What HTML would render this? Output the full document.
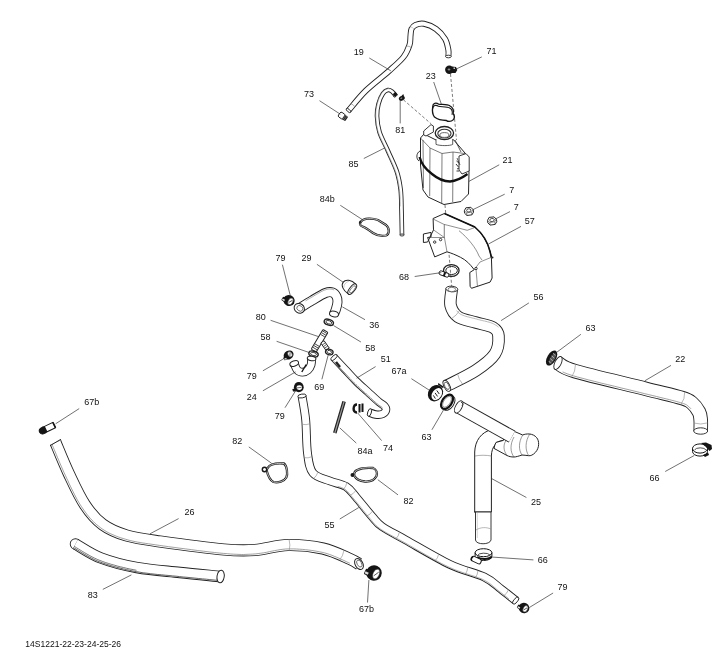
<!DOCTYPE html>
<html><head><meta charset="utf-8"><style>
html,body{margin:0;padding:0;background:#fff;}
svg{display:block;will-change:transform;}
text{font-family:"Liberation Sans",sans-serif;fill:#111;}
</style></head><body>
<svg width="712" height="653" viewBox="0 0 712 653">
<path d="M348.5,110.5 C351.4,107.2 359.2,97.1 366.0,90.5 C372.8,83.9 382.8,76.6 389.0,71.0 C395.2,65.4 400.1,61.3 403.5,57.0 C406.9,52.7 408.3,48.5 409.5,45.0 C410.7,41.5 410.2,38.7 410.5,36.0 C410.8,33.3 410.7,30.8 411.5,29.0 C412.3,27.2 413.4,25.9 415.5,25.0 C417.6,24.1 420.6,23.1 424.0,23.8 C427.4,24.5 432.5,26.5 436.0,29.0 C439.5,31.5 443.0,35.5 445.1,39.0 C447.2,42.5 447.8,47.1 448.4,50.0 C448.9,52.9 448.4,55.4 448.4,56.5" fill="none" stroke="#222" stroke-width="6.0" stroke-linecap="butt" stroke-linejoin="round"/>
<path d="M348.5,110.5 C351.4,107.2 359.2,97.1 366.0,90.5 C372.8,83.9 382.8,76.6 389.0,71.0 C395.2,65.4 400.1,61.3 403.5,57.0 C406.9,52.7 408.3,48.5 409.5,45.0 C410.7,41.5 410.2,38.7 410.5,36.0 C410.8,33.3 410.7,30.8 411.5,29.0 C412.3,27.2 413.4,25.9 415.5,25.0 C417.6,24.1 420.6,23.1 424.0,23.8 C427.4,24.5 432.5,26.5 436.0,29.0 C439.5,31.5 443.0,35.5 445.1,39.0 C447.2,42.5 447.8,47.1 448.4,50.0 C448.9,52.9 448.4,55.4 448.4,56.5" fill="none" stroke="#fff" stroke-width="4.2" stroke-linecap="butt" stroke-linejoin="round"/>
<ellipse cx="348.5" cy="110.5" rx="1.3" ry="2.8" transform="rotate(131.2 348.5 110.5)" fill="#fff" stroke="#222" stroke-width="0.9"/>
<ellipse cx="448.4" cy="56.5" rx="1.3" ry="2.8" transform="rotate(90.0 448.4 56.5)" fill="#fff" stroke="#222" stroke-width="0.9"/>
<path d="M411.2,47.6 Q409.2,45.9 406.6,46.0" fill="none" stroke="#777" stroke-width="0.6"/>
<path d="M354.7,106.8 Q353.5,104.5 351.0,103.8" fill="none" stroke="#777" stroke-width="0.6"/>
<path d="M414.1,29.2 Q412.5,27.1 410.0,26.7" fill="none" stroke="#999" stroke-width="0.5"/>
<text x="358.7" y="55.0" font-size="9" text-anchor="middle">19</text>
<line x1="369.3" y1="58.0" x2="390.8" y2="70.8" stroke="#333" stroke-width="0.7"/>
<g transform="translate(343,116.5) rotate(35)"><rect x="-4.5" y="-2.8" width="6" height="5.6" rx="1.5" fill="#fff" stroke="#222" stroke-width="0.9"/><rect x="0.5" y="-2.6" width="4" height="5.2" rx="0.8" fill="#222"/><path d="M1.5,-2.6 L1.5,2.6 M3,-2.6 L3,2.6" stroke="#999" stroke-width="0.5"/></g>
<text x="309.1" y="96.6" font-size="9" text-anchor="middle">73</text>
<line x1="319.5" y1="100.7" x2="340.3" y2="114.2" stroke="#333" stroke-width="0.7"/>
<ellipse cx="449.3" cy="69.8" rx="4.2" ry="4.2" fill="#151515"/><path d="M452,66.5 L456,67 L457.3,70 L455.5,73 L452,73 Z" fill="#151515"/><ellipse cx="449" cy="69.5" rx="1.4" ry="0.9" fill="#888"/><rect x="453.5" y="67.5" width="1.5" height="1.5" fill="#ccc"/>
<text x="491.4" y="53.8" font-size="9" text-anchor="middle">71</text>
<line x1="481.8" y1="56.9" x2="455.2" y2="69.5" stroke="#333" stroke-width="0.7"/>
<line x1="450.5" y1="74.0" x2="456.5" y2="140.0" stroke="#444" stroke-width="0.7" stroke-dasharray="3,2"/>
<g transform="translate(443.2,112.2) scale(1.13) translate(-443.2,-112.2)">
<path d="M434,107 C434,104 437,103.5 439,105 C442,105.5 447,105 449,106.5 C452,108 452.5,111 452,113.5 C453,115 453.5,117.5 452,119 C450,121 447,120.5 446,119.5 C442,119.5 438,118.5 435.5,116.5 C433.5,114 433.5,110 434,107 Z" fill="#fff" stroke="#151515" stroke-width="1.2"/>
<path d="M434,109 C434,106 437,105.5 439,107 C442,107.5 447,107 449,108.5 C451.5,110 451.5,112.5 451,114.5" fill="none" stroke="#151515" stroke-width="0.9"/>
</g>
<text x="430.7" y="78.5" font-size="9" text-anchor="middle">23</text>
<line x1="433.7" y1="82.0" x2="441.3" y2="104.0" stroke="#333" stroke-width="0.7"/>
<g transform="translate(401.8,98.3) rotate(-30)"><ellipse rx="3.1" ry="2.3" fill="#151515"/><path d="M0.5,-2 L3.5,-3 L3,-1 Z" fill="#151515"/><ellipse cx="-0.3" cy="-0.3" rx="1" ry="0.5" fill="#bbb"/></g>
<text x="400.2" y="132.5" font-size="9" text-anchor="middle">81</text>
<line x1="400.2" y1="100.0" x2="400.2" y2="123.4" stroke="#333" stroke-width="0.7"/>
<line x1="403.4" y1="99.8" x2="431.2" y2="123.9" stroke="#444" stroke-width="0.7" stroke-dasharray="3,2"/>
<path d="M395.5,95.5 C394.9,94.8 393.2,92.4 392.0,91.5 C390.8,90.6 389.5,89.7 388.0,90.0 C386.5,90.3 384.6,91.2 383.0,93.5 C381.4,95.8 379.5,100.2 378.5,104.0 C377.5,107.8 376.8,111.3 377.0,116.0 C377.2,120.7 377.7,126.2 379.5,132.0 C381.3,137.8 385.1,144.3 388.0,151.0 C390.9,157.7 394.9,165.5 397.0,172.0 C399.1,178.5 399.9,183.7 400.7,190.0 C401.4,196.3 401.3,202.5 401.5,210.0 C401.7,217.5 401.9,230.8 402.0,235.0" fill="none" stroke="#222" stroke-width="4.6" stroke-linecap="butt" stroke-linejoin="round"/>
<path d="M395.5,95.5 C394.9,94.8 393.2,92.4 392.0,91.5 C390.8,90.6 389.5,89.7 388.0,90.0 C386.5,90.3 384.6,91.2 383.0,93.5 C381.4,95.8 379.5,100.2 378.5,104.0 C377.5,107.8 376.8,111.3 377.0,116.0 C377.2,120.7 377.7,126.2 379.5,132.0 C381.3,137.8 385.1,144.3 388.0,151.0 C390.9,157.7 394.9,165.5 397.0,172.0 C399.1,178.5 399.9,183.7 400.7,190.0 C401.4,196.3 401.3,202.5 401.5,210.0 C401.7,217.5 401.9,230.8 402.0,235.0" fill="none" stroke="#fff" stroke-width="2.8" stroke-linecap="butt" stroke-linejoin="round"/>
<ellipse cx="395.5" cy="95.5" rx="1.0" ry="2.1" transform="rotate(48.8 395.5 95.5)" fill="#fff" stroke="#222" stroke-width="0.9"/>
<ellipse cx="402.0" cy="235.0" rx="1.0" ry="2.1" transform="rotate(88.9 402.0 235.0)" fill="#fff" stroke="#222" stroke-width="0.9"/>
<path d="M390.2,89.0 L389.7,88.9 L389.3,88.8 L388.8,88.7 L388.3,88.7 L387.8,88.8 L387.3,88.9 L386.8,89.1 L386.4,89.2 L385.9,89.4 L385.4,89.7 L384.9,90.0 L384.4,90.3 L383.9,90.7 L383.4,91.2 L382.9,91.7 L382.5,92.2 L382.0,92.8 L381.6,93.5 L381.1,94.2 L380.7,95.0 L380.3,95.9 L379.8,96.8 L379.4,97.7 L379.0,98.7 L378.6,99.7 L378.3,100.7 L377.9,101.7 L377.6,102.7 L377.3,103.7 L377.1,104.6 L376.9,105.6 L376.6,106.5 L376.5,107.5 L376.3,108.5 L376.1,109.5 L376.0,110.5 L375.9,111.6 L375.8,112.6 L375.8,113.7 L375.8,114.9 L375.8,116.0 L375.9,117.2 L375.9,118.5 L376.0,119.7 L376.1,121.0 L376.3,122.4 L376.4,123.7 L376.6,125.1 L376.9,126.5 L377.2,128.0 L377.5,129.4 L377.9,130.9 L378.4,132.4 L378.9,133.9 L379.4,135.4 L380.1,137.0 L380.8,138.5 L381.5,140.1 L382.3,141.7 L383.0,143.3 L383.8,144.9 L384.6,146.6 L385.4,148.2 L386.2,149.8 L386.9,151.5 L387.7,153.2 L388.4,154.9 L389.2,156.7 L390.1,158.5 L390.9,160.3 L391.7,162.1 L392.5,163.8 L393.3,165.6 L394.0,167.4 L394.7,169.1 L395.3,170.8 L395.9,172.4 L396.4,173.9 L396.8,175.5 L397.2,177.0 L397.6,178.4 L397.9,179.9 L398.2,181.3 L398.5,182.7 L398.7,184.2 L398.9,185.6 L399.1,187.1 L399.3,188.6 L399.5,190.1 L399.7,191.7 L399.8,193.3 L399.9,194.8 L400.0,196.4 L400.1,198.0 L400.1,199.6 L400.1,201.2 L400.2,202.9 L400.2,204.6 L400.2,206.4" fill="none" stroke="#777" stroke-width="0.5"/>
<line x1="394" y1="93" x2="396.3" y2="95.6" stroke="#151515" stroke-width="3.4"/>
<text x="353.4" y="166.9" font-size="9" text-anchor="middle">85</text>
<line x1="363.8" y1="158.5" x2="384.6" y2="148.0" stroke="#333" stroke-width="0.7"/>
<path d="M361,221.5 C364,218 372,217.8 378,220 L386,225 C390,228.5 389.5,234 386,235.5 C382,236.5 377,235.5 373,233 C369,230 366,228 362.5,226.5 C359.5,225.5 359.5,223.5 361,221.5 Z" fill="none" stroke="#1a1a1a" stroke-width="2.3"/>
<path d="M361,221.5 C364,218 372,217.8 378,220 L386,225 C390,228.5 389.5,234 386,235.5 C382,236.5 377,235.5 373,233 C369,230 366,228 362.5,226.5 C359.5,225.5 359.5,223.5 361,221.5 Z" fill="none" stroke="#fff" stroke-width="0.7"/>
<path d="M360.5,221 L359.5,223.5" stroke="#1a1a1a" stroke-width="1.8"/>
<text x="327.3" y="202.0" font-size="9" text-anchor="middle">84b</text>
<line x1="340.3" y1="205.3" x2="362.5" y2="219.7" stroke="#333" stroke-width="0.7"/>
<path d="M420.5,138 L424,134 L436,140 L453.6,139.8 L465.5,153.6 L469,172 L468.5,194 L461,201.5 L444,204.5 L428,197 L423,190 L420.5,165 Z" fill="#fff" stroke="#222" stroke-width="1"/>
<path d="M420.5,138 L430,148 L442,153.5 L453,152 L465.5,153.6 M430,148 L429.7,196 M442,153.5 L441.7,203 M453,152 L452.7,202 M423,140 L423.5,188" fill="none" stroke="#444" stroke-width="0.7"/>
<path d="M456.5,161 L459,163 M456,164 L458.5,167 M457,169 L459,168 M456.5,171 L459,171" fill="none" stroke="#222" stroke-width="0.9"/>
<path d="M436,139 L436,144.4 C440,146 450,146 452.7,144.4 L452.7,139" fill="#fff" stroke="#333" stroke-width="0.8"/>
<ellipse cx="444.4" cy="133.1" rx="9.2" ry="6.6" fill="#fff" stroke="#222" stroke-width="1.3"/><ellipse cx="444.4" cy="133.6" rx="6.6" ry="4.4" fill="#fff" stroke="#333" stroke-width="1.1"/><ellipse cx="444.4" cy="135" rx="4.6" ry="2.4" fill="#fff" stroke="#444" stroke-width="0.8"/>
<path d="M423.7,131 L431,124.6 L433.4,126 L433.4,132 L426,136 L423.7,135 Z" fill="#fff" stroke="#222" stroke-width="0.9"/>
<path d="M419.6,157 C421,163 424,168 432,174 C438,179 444,181.5 450,181.5 C456,181 462,178 467.5,174" fill="none" stroke="#111" stroke-width="2.3"/>
<path d="M420,151 C416,153 416,159 419,161" fill="none" stroke="#222" stroke-width="0.9"/>
<path d="M459,156 L466,153.6 L469.2,157 L469.2,171 L462,174 L459,170 Z" fill="#fff" stroke="#222" stroke-width="0.9"/>
<path d="M455,140 L461,152 M457,158 L460,165" fill="none" stroke="#333" stroke-width="0.8"/>
<text x="507.5" y="162.5" font-size="9" text-anchor="middle">21</text>
<line x1="499.2" y1="164.8" x2="468.9" y2="181.4" stroke="#333" stroke-width="0.7"/>
<line x1="445.0" y1="205.0" x2="452.0" y2="290.0" stroke="#444" stroke-width="0.7" stroke-dasharray="3,2"/>
<g transform="translate(468.9,211.2) rotate(-8)"><path d="M-4.5,-1 L-2.5,-3.8 L2.5,-3.6 L4.5,-0.8 L4.5,1.5 L2.5,4 L-2.5,4 L-4.5,1.5 Z" fill="#fff" stroke="#222" stroke-width="0.9"/><ellipse cy="-0.8" rx="2.2" ry="1.6" fill="#fff" stroke="#333" stroke-width="0.8"/><path d="M-4.5,-1 L-2.5,1.3 L2.5,1.3 L4.5,-0.8 M-2.5,1.3 L-2.5,4 M2.5,1.3 L2.5,4" fill="none" stroke="#444" stroke-width="0.6"/></g>
<g transform="translate(492.1,220.8) rotate(-8)"><path d="M-4.5,-1 L-2.5,-3.8 L2.5,-3.6 L4.5,-0.8 L4.5,1.5 L2.5,4 L-2.5,4 L-4.5,1.5 Z" fill="#fff" stroke="#222" stroke-width="0.9"/><ellipse cy="-0.8" rx="2.2" ry="1.6" fill="#fff" stroke="#333" stroke-width="0.8"/><path d="M-4.5,-1 L-2.5,1.3 L2.5,1.3 L4.5,-0.8 M-2.5,1.3 L-2.5,4 M2.5,1.3 L2.5,4" fill="none" stroke="#444" stroke-width="0.6"/></g>
<text x="511.7" y="192.8" font-size="9" text-anchor="middle">7</text>
<line x1="504.7" y1="194.2" x2="472.6" y2="209.8" stroke="#333" stroke-width="0.7"/>
<text x="516.3" y="210.2" font-size="9" text-anchor="middle">7</text>
<line x1="510.0" y1="211.6" x2="494.4" y2="219.5" stroke="#333" stroke-width="0.7"/>
<path d="M433.1,218.5 L444.4,213.5 L474.8,227 C482,233 488,243 490.1,251.8 L491.4,257.3 L492.1,278 L490.1,282.1 L471.5,288.3 L470.1,286.3 L469.8,272.5 L474.2,269.7 C470,264 466,260 460.5,257.3 C456,255 451,253 447,251.8 L434.7,256.9 L427.6,237.5 L431,237 L431,232.4 L423.4,234 L423.4,242.5 L427.6,242 L433.5,229.9 Z" fill="#fff" stroke="#222" stroke-width="1"/>
<path d="M433.1,219 L444,224.4 L447.8,225.3 L467.2,230.3 L474,227.8 M444.4,224.4 L444.4,237.5 L447,251.8 M427.6,237.5 L444.4,237.5 M433.5,229.9 L444.4,237.5 M459,230.7 C468,238 476,248 479,256 L482,260 M474.2,269.7 L480,262 L491.4,257.3 M476,269 L477.5,287" fill="none" stroke="#444" stroke-width="0.6"/>
<path d="M444.4,225 L444.4,237" stroke="#999" stroke-width="1.2"/>
<circle cx="434.7" cy="242.1" r="1.2" fill="#fff" stroke="#222" stroke-width="0.9"/><circle cx="440.6" cy="239.6" r="1.2" fill="#fff" stroke="#222" stroke-width="0.9"/><circle cx="476" cy="268.5" r="1.2" fill="#fff" stroke="#222" stroke-width="0.9"/>
<path d="M444.4,213.5 L474.8,227 C482,233 488,243 490.1,251.8 L491.4,257.3" fill="none" stroke="#111" stroke-width="1.6"/>
<circle cx="492.5" cy="257.5" r="1" fill="#222"/>
<text x="529.8" y="224.2" font-size="9" text-anchor="middle">57</text>
<line x1="521.0" y1="226.4" x2="488.5" y2="244.0" stroke="#333" stroke-width="0.7"/>
<ellipse cx="451.3" cy="270.5" rx="7.8" ry="5.9" transform="rotate(0 451.3 270.5)" fill="none" stroke="#222" stroke-width="1.3"/>
<ellipse cx="451.6" cy="270.5" rx="5.8" ry="4" transform="rotate(0 451.6 270.5)" fill="none" stroke="#222" stroke-width="1.0"/>
<g transform="translate(444,274) rotate(20)"><rect x="-5" y="-2" width="10" height="4" rx="1.5" fill="#fff" stroke="#151515" stroke-width="0.9"/><rect x="-0.5" y="-2" width="2" height="4" fill="#151515"/></g>
<text x="404.0" y="279.7" font-size="9" text-anchor="middle">68</text>
<line x1="414.7" y1="276.5" x2="441.3" y2="272.6" stroke="#333" stroke-width="0.7"/>
<path d="M451.8,289.0 C451.6,291.7 449.6,300.8 450.6,305.4 C451.7,310.0 453.9,313.9 458.1,316.8 C462.3,319.7 470.0,320.7 475.8,322.5 C481.6,324.3 489.2,325.2 493.0,327.5 C496.8,329.8 498.2,331.6 498.5,336.0 C498.8,340.4 498.6,348.2 494.8,354.0 C491.0,359.8 483.8,365.2 475.8,370.5 C467.8,375.8 451.6,383.2 446.8,385.8" fill="none" stroke="#222" stroke-width="12.5" stroke-linecap="butt" stroke-linejoin="round"/>
<path d="M451.8,289.0 C451.6,291.7 449.6,300.8 450.6,305.4 C451.7,310.0 453.9,313.9 458.1,316.8 C462.3,319.7 470.0,320.7 475.8,322.5 C481.6,324.3 489.2,325.2 493.0,327.5 C496.8,329.8 498.2,331.6 498.5,336.0 C498.8,340.4 498.6,348.2 494.8,354.0 C491.0,359.8 483.8,365.2 475.8,370.5 C467.8,375.8 451.6,383.2 446.8,385.8" fill="none" stroke="#fff" stroke-width="10.7" stroke-linecap="butt" stroke-linejoin="round"/>
<ellipse cx="451.8" cy="289.0" rx="2.8" ry="6.0" transform="rotate(-85.8 451.8 289.0)" fill="#fff" stroke="#222" stroke-width="0.9"/>
<ellipse cx="446.8" cy="385.8" rx="2.8" ry="6.0" transform="rotate(152.2 446.8 385.8)" fill="#fff" stroke="#222" stroke-width="0.9"/>
<ellipse cx="451.8" cy="289.5" rx="3.8" ry="2.2" fill="#fff" stroke="#444" stroke-width="0.7"/>
<ellipse cx="446.8" cy="385.8" rx="2" ry="4" transform="rotate(-28 446.8 385.8)" fill="#fff" stroke="#444" stroke-width="0.7"/>
<path d="M451.5,318.6 Q456.5,315.7 459.5,310.6" fill="none" stroke="#888" stroke-width="0.6"/>
<path d="M457.6,374.1 Q458.8,379.9 462.7,384.2" fill="none" stroke="#888" stroke-width="0.6"/>
<path d="M456.6,310.6 L457.2,311.3 L457.8,312.0 L458.5,312.7 L459.2,313.3 L460.0,313.9 L460.9,314.4 L461.9,314.9 L463.1,315.4 L464.4,315.8 L465.8,316.3 L467.2,316.7 L468.8,317.1 L470.4,317.5 L472.0,317.9 L473.6,318.3 L475.2,318.7 L476.8,319.1 L478.2,319.6 L479.7,319.9 L481.2,320.3 L482.8,320.7 L484.4,321.0 L486.0,321.4 L487.6,321.8 L489.1,322.2 L490.6,322.7 L492.1,323.2 L493.5,323.8 L494.7,324.5 L495.8,325.1 L496.8,325.8 L497.7,326.5 L498.5,327.2" fill="none" stroke="#777" stroke-width="0.5"/>
<text x="538.5" y="299.7" font-size="9" text-anchor="middle">56</text>
<line x1="528.9" y1="302.9" x2="501.1" y2="320.6" stroke="#333" stroke-width="0.7"/>
<g transform="translate(435.5,393.2) rotate(35)"><ellipse rx="7.2" ry="8.6" fill="#151515"/><ellipse cx="1.6" cy="0" rx="4.6" ry="6.6" fill="#fff"/><path d="M-0.5,-3 L3.5,-1.5 M-0.5,0 L3.5,1.5 M-0.5,3 L3,4.5" stroke="#222" stroke-width="0.9"/><path d="M-3,-8.5 L3,-8.5 L3.5,-10 L-3.5,-10 Z" fill="#151515"/></g>
<text x="399.0" y="374.2" font-size="9" text-anchor="middle">67a</text>
<line x1="411.4" y1="378.7" x2="429.0" y2="390.0" stroke="#333" stroke-width="0.7"/>
<g transform="translate(448,402.5) rotate(35)"><ellipse cx="1.2" rx="4.8" ry="8" fill="#fff" stroke="#222" stroke-width="1"/><rect x="-1.2" y="-8" width="2.4" height="16" fill="#fff"/><path d="M-1.2,-8 L1.2,-8 M-1.2,8 L1.2,8" stroke="#222" stroke-width="1"/><ellipse cx="-1.2" rx="4.8" ry="8" fill="#fff" stroke="#111" stroke-width="2.2"/><ellipse cx="-1.2" rx="3.2" ry="6.2" fill="#fff" stroke="#555" stroke-width="0.6"/></g>
<text x="426.5" y="440.4" font-size="9" text-anchor="middle">63</text>
<line x1="431.9" y1="429.8" x2="444.1" y2="409.0" stroke="#333" stroke-width="0.7"/>
<path d="M474.7,512 L474.7,452 C475,441 481,432 492,429.5 L507.4,428.4 L503.4,440.4 C499,441 496.5,442 495.4,444.4 C493,447 491.4,451 491.4,456 L491.4,512 Z" fill="#fff" stroke="#222" stroke-width="1"/>
<path d="M507.4,428.4 L522.7,435 C526,433.5 533,433 536.7,437.7 C539.5,441 539.5,448 535.4,452.4 C533,455 530.5,456 528.7,455.7 C526,455.5 524,455 522,455 C519,456 516,457 514,457 C511,457 509,456.5 507,455.5 L494,448.4 C494.5,446 495,444 496,442.4 L503.4,440.4 Z" fill="#fff" stroke="#222" stroke-width="1"/>
<path d="M507,455.5 C503,450 503,444 507,439 M514,457 C510,452 510,444 514,437 M522,455 C518.5,450 518.5,442 522.7,435 M528.7,455.7 C525,450 525,441 530,433.7" fill="none" stroke="#555" stroke-width="0.6"/>
<path d="M475,456 C480,455 486,455 491.5,456" fill="none" stroke="#777" stroke-width="0.6"/>
<path d="M458.7,406.9 L512.0,436.7" fill="none" stroke="#222" stroke-width="13.5" stroke-linecap="butt" stroke-linejoin="round"/>
<path d="M458.7,406.9 L512.0,436.7" fill="none" stroke="#fff" stroke-width="11.7" stroke-linecap="butt" stroke-linejoin="round"/>
<ellipse cx="458.7" cy="406.9" rx="3.2" ry="6.7" transform="rotate(29 458.7 406.9)" fill="#fff" stroke="#222" stroke-width="0.9"/>
<path d="M461,402 L463,404 L462,406" fill="none" stroke="#222" stroke-width="0.8"/>
<path d="M475.5,512 L475.5,540 C476,545 490,545 491,540 L491,512" fill="#fff" stroke="#222" stroke-width="0.9"/>
<line x1="474" y1="512" x2="491" y2="512" stroke="#222" stroke-width="0.9"/>
<path d="M476,530 C481,527 486,527 491,529" fill="none" stroke="#888" stroke-width="0.6"/><line x1="477.3" y1="513" x2="477.3" y2="538" stroke="#aaa" stroke-width="0.5"/>
<text x="536.0" y="505.3" font-size="9" text-anchor="middle">25</text>
<line x1="526.4" y1="497.5" x2="491.3" y2="478.4" stroke="#333" stroke-width="0.7"/>
<path d="M475.1,552.7 L475.1,556.5 A8.4,4 0 0 0 491.9,556.5 L491.9,552.7" fill="#fff" stroke="#151515" stroke-width="1"/>
<ellipse cx="483.5" cy="552.7" rx="8.4" ry="4" fill="none" stroke="#151515" stroke-width="1"/>
<path d="M477,557 A8.4,4 0 0 0 491.9,556.5" fill="none" stroke="#151515" stroke-width="2"/>
<g transform="translate(476.5,560.3) rotate(25)"><rect x="-5.2" y="-2.6" width="10" height="5" rx="2" fill="#fff" stroke="#151515" stroke-width="1"/><path d="M-4.5,-2 C-6,-1 -6,1.5 -4,2.4" fill="none" stroke="#151515" stroke-width="1.6"/></g>
<path d="M477.5,555.5 A6.5,2.8 0 0 1 490,555" fill="none" stroke="#222" stroke-width="0.8"/>
<text x="542.7" y="563.1" font-size="9" text-anchor="middle">66</text>
<line x1="533.4" y1="559.9" x2="492.7" y2="557.1" stroke="#333" stroke-width="0.7"/>
<path d="M558.0,363.0 C560.8,364.4 560.4,366.9 575.0,371.2 C589.6,375.5 627.8,384.3 645.6,388.8 C663.4,393.3 674.3,395.6 682.0,398.0 C689.7,400.4 689.2,400.7 692.0,403.0 C694.8,405.3 697.5,409.2 699.0,412.0 C700.5,414.8 700.4,416.8 700.7,420.0 C701.0,423.2 700.7,429.2 700.7,431.0" fill="none" stroke="#222" stroke-width="14.5" stroke-linecap="butt" stroke-linejoin="round"/>
<path d="M558.0,363.0 C560.8,364.4 560.4,366.9 575.0,371.2 C589.6,375.5 627.8,384.3 645.6,388.8 C663.4,393.3 674.3,395.6 682.0,398.0 C689.7,400.4 689.2,400.7 692.0,403.0 C694.8,405.3 697.5,409.2 699.0,412.0 C700.5,414.8 700.4,416.8 700.7,420.0 C701.0,423.2 700.7,429.2 700.7,431.0" fill="none" stroke="#fff" stroke-width="12.7" stroke-linecap="butt" stroke-linejoin="round"/>
<ellipse cx="558.0" cy="363.0" rx="3.2" ry="7.0" transform="rotate(-154.2 558.0 363.0)" fill="#fff" stroke="#222" stroke-width="0.9"/>
<ellipse cx="700.7" cy="431.0" rx="3.2" ry="7.0" transform="rotate(90.0 700.7 431.0)" fill="#fff" stroke="#222" stroke-width="0.9"/>
<path d="M562.6,371.9 L564.7,372.8 L567.2,373.8 L570.1,374.8 L573.6,375.9 L577.8,377.1 L582.8,378.4 L588.5,379.9 L594.6,381.4 L601.2,383.1 L607.9,384.7 L614.7,386.3 L621.5,388.0 L627.9,389.5 L634.0,391.0 L639.6,392.4 L644.4,393.6 L648.7,394.6 L652.8,395.6 L656.6,396.5 L660.1,397.4 L663.4,398.2 L666.4,398.9 L669.3,399.6 L671.9,400.3 L674.3,400.9 L676.6,401.5 L678.6,402.1 L680.6,402.7 L682.3,403.2 L683.7,403.7 L684.7,404.0 L685.5,404.4 L686.1,404.6 L686.4,404.8 L686.7,404.9 L686.9,405.1 L687.2,405.3 L687.6,405.7 L688.2,406.2 L688.8,406.7 L689.4,407.2 L689.9,407.7 L690.5,408.3 L691.0,408.9" fill="none" stroke="#555" stroke-width="0.55"/>
<path d="M680.8,404.6 Q685.1,399.0 684.7,391.9" fill="none" stroke="#888" stroke-width="0.6"/>
<path d="M694.2,423.1 Q700.8,425.0 707.5,422.9" fill="none" stroke="#888" stroke-width="0.6"/>
<path d="M571.6,377.1 Q575.5,371.4 575.5,364.4" fill="none" stroke="#888" stroke-width="0.6"/>
<g transform="translate(551.6,358) rotate(30)"><ellipse rx="4.4" ry="8.4" fill="#151515"/><ellipse cx="1" rx="2.2" ry="6" fill="#555"/><path d="M-1,-5 L2,-4 M-1,-2 L2.5,-1 M-1,1 L2.5,2 M-1,4 L2,5" stroke="#ccc" stroke-width="0.7"/></g>
<text x="590.5" y="330.8" font-size="9" text-anchor="middle">63</text>
<line x1="580.9" y1="334.3" x2="554.7" y2="353.8" stroke="#333" stroke-width="0.7"/>
<text x="680.3" y="362.2" font-size="9" text-anchor="middle">22</text>
<line x1="671.0" y1="365.4" x2="644.8" y2="380.8" stroke="#333" stroke-width="0.7"/>
<path d="M692.5,448.5 L692.5,451.5 A7.5,4.6 0 0 0 707.5,451.5 L707.5,448.5" fill="#fff" stroke="#151515" stroke-width="1"/>
<ellipse cx="700" cy="448.5" rx="7.5" ry="4.6" fill="none" stroke="#151515" stroke-width="1"/>
<path d="M694.5,450 A6,3 0 0 1 706,450" fill="none" stroke="#222" stroke-width="0.8"/>
<path d="M701,443 L706,442.5 L711.5,445 L712,449 L709.5,451 L706,447 Z" fill="#151515"/>
<path d="M703,455 L708,452.5 L709,455 L705,457 Z" fill="#151515"/>
<text x="654.4" y="480.8" font-size="9" text-anchor="middle">66</text>
<line x1="694.2" y1="455.5" x2="665.2" y2="471.5" stroke="#333" stroke-width="0.7"/>
<g transform="translate(349.5,287) rotate(38)"><path d="M3.5,-6.2 C-3,-6.8 -8,-4 -8,0 C-8,4 -3,6.8 3.5,6.2 Z" fill="#fff" stroke="#222" stroke-width="1"/><ellipse cx="3.5" cy="0" rx="2.6" ry="6.2" fill="#fff" stroke="#222" stroke-width="1"/><ellipse cx="3.8" cy="0" rx="1.6" ry="4.4" fill="#fff" stroke="#444" stroke-width="0.6"/><path d="M-4,-4 C-6,-2 -6,2 -4,4" fill="none" stroke="#999" stroke-width="0.5"/></g>
<text x="306.6" y="261.0" font-size="9" text-anchor="middle">29</text>
<line x1="316.9" y1="264.3" x2="343.4" y2="282.4" stroke="#333" stroke-width="0.7"/>
<path d="M299.0,308.5 C301.2,307.2 307.6,303.1 312.0,300.5 C316.4,297.9 322.1,294.3 325.5,293.0 C328.9,291.7 330.7,291.9 332.5,292.5 C334.3,293.1 335.7,294.9 336.5,296.5 C337.3,298.1 337.6,299.9 337.5,302.0 C337.4,304.1 336.6,307.0 336.0,309.0 C335.4,311.0 334.3,313.2 334.0,314.0" fill="none" stroke="#222" stroke-width="10" stroke-linecap="butt" stroke-linejoin="round"/>
<path d="M299.0,308.5 C301.2,307.2 307.6,303.1 312.0,300.5 C316.4,297.9 322.1,294.3 325.5,293.0 C328.9,291.7 330.7,291.9 332.5,292.5 C334.3,293.1 335.7,294.9 336.5,296.5 C337.3,298.1 337.6,299.9 337.5,302.0 C337.4,304.1 336.6,307.0 336.0,309.0 C335.4,311.0 334.3,313.2 334.0,314.0" fill="none" stroke="#fff" stroke-width="8.2" stroke-linecap="butt" stroke-linejoin="round"/>
<ellipse cx="299.3" cy="308.3" rx="5.4" ry="4.6" transform="rotate(35 299.3 308.3)" fill="#fff" stroke="#222" stroke-width="1"/><ellipse cx="299.8" cy="308" rx="3.2" ry="2.6" transform="rotate(35 299.3 308.3)" fill="#fff" stroke="#444" stroke-width="0.7"/>
<ellipse cx="334" cy="314" rx="4.6" ry="2.8" transform="rotate(15 334 314)" fill="#fff" stroke="#222" stroke-width="1"/>
<path d="M305.6,300.9 L306.8,300.1 L308.1,299.3 L309.3,298.6 L310.5,297.9 L311.6,297.3 L312.8,296.6 L314.0,295.8 L315.2,295.1 L316.4,294.4 L317.6,293.7 L318.8,293.0 L320.0,292.3 L321.2,291.7 L322.3,291.1 L323.4,290.6 L324.4,290.2 L325.3,289.9 L326.2,289.6 L327.1,289.4 L327.9,289.2 L328.7,289.1 L329.5,289.0 L330.2,289.0 L331.0,289.1 L331.6,289.2 L332.3,289.3 L332.9,289.5 L333.5,289.7 L334.2,289.9" fill="none" stroke="#666" stroke-width="0.55"/>
<text x="374.3" y="328.4" font-size="9" text-anchor="middle">36</text>
<line x1="365.0" y1="319.7" x2="342.4" y2="306.9" stroke="#333" stroke-width="0.7"/>
<g transform="translate(289,300.5) rotate(30)"><ellipse rx="5.8" ry="5.4" fill="#151515"/><rect x="-7.00" y="-0.54" width="5.22" height="4.05" rx="0.8" fill="#151515"/><rect x="-6.40" y="1.35" width="2.61" height="1.62" fill="#ddd"/><ellipse cx="1.74" rx="2.32" ry="3.56" fill="#fff" stroke="#333" stroke-width="0.5"/><line x1="0.70" y1="1.89" x2="2.90" y2="-1.89" stroke="#444" stroke-width="0.8"/></g>
<text x="280.5" y="261.0" font-size="9" text-anchor="middle">79</text>
<line x1="282.4" y1="264.7" x2="290.3" y2="295.7" stroke="#333" stroke-width="0.7"/>
<ellipse cx="328.8" cy="322.3" rx="4.8" ry="2.8" transform="rotate(20 328.8 322.3)" fill="none" stroke="#222" stroke-width="1.4"/>
<ellipse cx="328.8" cy="322.3" rx="3" ry="1.6" transform="rotate(20 328.8 322.3)" fill="none" stroke="#222" stroke-width="0.8"/>
<text x="260.8" y="320.3" font-size="9" text-anchor="middle">80</text>
<line x1="270.6" y1="320.3" x2="320.8" y2="337.4" stroke="#333" stroke-width="0.7"/>
<text x="370.3" y="350.9" font-size="9" text-anchor="middle">58</text>
<line x1="360.9" y1="342.0" x2="333.5" y2="325.5" stroke="#333" stroke-width="0.7"/>
<g transform="translate(319.6,340.8) rotate(31)"><rect x="-2.9" y="-11.5" width="5.8" height="23" rx="1" fill="#fff" stroke="#222" stroke-width="1"/><path d="M-2.5,-10 L2.5,-10 M-2.5,-8 L2.5,-8 M-2.5,-6 L2.5,-6 M-2.5,5 L2.5,5 M-2.5,7 L2.5,7 M-2.5,9 L2.5,9" stroke="#333" stroke-width="0.8"/></g>
<g transform="translate(325,345.5) rotate(-35)"><rect x="-2" y="-4.5" width="4" height="9" fill="#fff" stroke="#222" stroke-width="0.9"/><path d="M-2,-2 L2,-2 M-2,0 L2,0 M-2,2 L2,2" stroke="#333" stroke-width="0.7"/></g>
<ellipse cx="313.5" cy="354" rx="4.8" ry="2.8" transform="rotate(15 313.5 354)" fill="none" stroke="#222" stroke-width="1.4"/>
<ellipse cx="313.5" cy="354" rx="3" ry="1.6" transform="rotate(15 313.5 354)" fill="none" stroke="#222" stroke-width="0.8"/>
<ellipse cx="329.3" cy="352" rx="3.8" ry="2.7" transform="rotate(15 329.3 352)" fill="none" stroke="#222" stroke-width="1.4"/>
<ellipse cx="329.3" cy="352" rx="2.2" ry="1.5" transform="rotate(15 329.3 352)" fill="none" stroke="#222" stroke-width="0.8"/>
<text x="265.6" y="340.3" font-size="9" text-anchor="middle">58</text>
<line x1="276.6" y1="341.3" x2="310.3" y2="352.9" stroke="#333" stroke-width="0.7"/>
<path d="M311.6,358.5 C311.5,359.5 311.7,362.8 311.1,364.7 C310.5,366.6 309.3,368.8 307.9,370.0 C306.5,371.2 304.3,372.2 302.5,372.2 C300.7,372.2 298.6,371.4 297.2,370.0 C295.8,368.6 294.7,364.6 294.2,363.5" fill="none" stroke="#222" stroke-width="8.8" stroke-linecap="butt" stroke-linejoin="round"/>
<path d="M311.6,358.5 C311.5,359.5 311.7,362.8 311.1,364.7 C310.5,366.6 309.3,368.8 307.9,370.0 C306.5,371.2 304.3,372.2 302.5,372.2 C300.7,372.2 298.6,371.4 297.2,370.0 C295.8,368.6 294.7,364.6 294.2,363.5" fill="none" stroke="#fff" stroke-width="7.000000000000001" stroke-linecap="butt" stroke-linejoin="round"/>
<ellipse cx="294.2" cy="363.5" rx="4.5" ry="2.6" transform="rotate(-20 294.2 363.5)" fill="#fff" stroke="#222" stroke-width="1"/>
<ellipse cx="311.6" cy="358.5" rx="4.4" ry="2.2" transform="rotate(10 311.6 358.5)" fill="#fff" stroke="#222" stroke-width="1"/>
<line x1="301.8" y1="372" x2="306.2" y2="364.5" stroke="#151515" stroke-width="1.4"/>
<g transform="translate(288.6,355) rotate(-30)"><ellipse rx="5.2" ry="4.2" fill="#151515"/><rect x="-6.40" y="-0.42" width="4.68" height="3.15" rx="0.8" fill="#151515"/><rect x="-5.80" y="1.05" width="2.34" height="1.26" fill="#ddd"/><ellipse cx="1.56" rx="2.08" ry="2.77" fill="#fff" stroke="#333" stroke-width="0.5"/><line x1="0.62" y1="1.47" x2="2.60" y2="-1.47" stroke="#444" stroke-width="0.8"/></g>
<text x="251.7" y="379.2" font-size="9" text-anchor="middle">79</text>
<line x1="262.9" y1="370.8" x2="282.9" y2="359.2" stroke="#333" stroke-width="0.7"/>
<text x="251.7" y="400.4" font-size="9" text-anchor="middle">24</text>
<line x1="262.9" y1="390.8" x2="295.6" y2="371.9" stroke="#333" stroke-width="0.7"/>
<text x="319.2" y="389.8" font-size="9" text-anchor="middle">69</text>
<line x1="321.9" y1="379.3" x2="328.2" y2="355.0" stroke="#333" stroke-width="0.7"/>
<ellipse cx="298.8" cy="387.2" rx="4.9" ry="5.1" fill="#151515"/><ellipse cx="299.3" cy="387.6" rx="2.7" ry="2.4" fill="#fff"/><line x1="296.5" y1="388" x2="301.5" y2="387.3" stroke="#333" stroke-width="0.7"/><path d="M292.3,389 L295.7,388.5 L295.7,391.6 L293,391.6 Z" fill="#151515"/>
<text x="279.8" y="419.3" font-size="9" text-anchor="middle">79</text>
<line x1="285.0" y1="407.7" x2="295.6" y2="390.8" stroke="#333" stroke-width="0.7"/>
<path d="M334.0,357.5 C335.8,359.5 341.3,365.4 345.0,369.3 C348.7,373.2 352.2,377.2 356.0,381.0 C359.8,384.8 364.2,388.5 368.0,392.0 C371.8,395.5 376.2,399.7 379.0,402.0 C381.8,404.3 383.3,404.7 384.5,406.0 C385.7,407.3 386.3,408.7 386.0,410.0 C385.7,411.3 384.2,413.2 382.5,414.0 C380.8,414.8 377.7,414.8 375.5,414.5 C373.3,414.2 370.5,412.8 369.5,412.5" fill="none" stroke="#222" stroke-width="8.4" stroke-linecap="butt" stroke-linejoin="round"/>
<path d="M334.0,357.5 C335.8,359.5 341.3,365.4 345.0,369.3 C348.7,373.2 352.2,377.2 356.0,381.0 C359.8,384.8 364.2,388.5 368.0,392.0 C371.8,395.5 376.2,399.7 379.0,402.0 C381.8,404.3 383.3,404.7 384.5,406.0 C385.7,407.3 386.3,408.7 386.0,410.0 C385.7,411.3 384.2,413.2 382.5,414.0 C380.8,414.8 377.7,414.8 375.5,414.5 C373.3,414.2 370.5,412.8 369.5,412.5" fill="none" stroke="#fff" stroke-width="6.6000000000000005" stroke-linecap="butt" stroke-linejoin="round"/>
<ellipse cx="334.0" cy="357.5" rx="1.8" ry="4.0" transform="rotate(-133.0 334.0 357.5)" fill="#fff" stroke="#222" stroke-width="0.9"/>
<ellipse cx="369.5" cy="412.5" rx="1.8" ry="4.0" transform="rotate(-161.6 369.5 412.5)" fill="#fff" stroke="#222" stroke-width="0.9"/>
<path d="M334.1,361.4 L334.9,362.3 L335.9,363.4 L336.9,364.4 L338.0,365.6 L339.0,366.7 L340.1,367.9 L341.1,369.0 L342.1,370.1 L343.1,371.1 L344.0,372.0 L344.9,373.0 L345.8,374.0 L346.7,375.0 L347.6,376.0 L348.5,377.0 L349.4,378.0 L350.4,378.9 L351.3,379.9 L352.2,380.9 L353.2,381.9 L354.2,382.9 L355.2,383.8 L356.2,384.8 L357.2,385.7 L358.2,386.7 L359.2,387.6 L360.3,388.5 L361.3,389.5 L362.3,390.4 L363.3,391.3 L364.3,392.2 L365.3,393.0 L366.2,393.9 L367.2,394.8 L368.2,395.7 L369.2,396.6 L370.2,397.5 L371.2,398.5 L372.1,399.4 L373.1,400.2 L374.0,401.1 L374.9,401.9 L375.8,402.6 L376.6,403.3 L377.3,404.0 L378.1,404.6 L378.7,405.1 L379.4,405.6 L380.0,406.0 L380.5,406.3 L381.0,406.6 L381.4,406.8 L381.7,407.1 L382.0,407.2 L382.2,407.4 L382.4,407.6" fill="none" stroke="#444" stroke-width="0.6"/>
<path d="M336,362 L340,367" stroke="#222" stroke-width="2.4"/>
<text x="385.7" y="362.4" font-size="9" text-anchor="middle">51</text>
<line x1="375.6" y1="366.6" x2="356.6" y2="378.2" stroke="#333" stroke-width="0.7"/>
<g transform="translate(358,408.5)"><path d="M-1,-4 C-5,-4 -6,4 -1,4" fill="none" stroke="#151515" stroke-width="2.4"/><rect x="0.5" y="-4.5" width="2" height="8.5" fill="#151515"/><rect x="3.5" y="-5" width="2" height="8.5" fill="#151515"/></g>
<text x="387.9" y="451.3" font-size="9" text-anchor="middle">74</text>
<line x1="381.6" y1="440.6" x2="357.5" y2="412.8" stroke="#333" stroke-width="0.7"/>
<path d="M344.1,401.4 L334.8,433.0" fill="none" stroke="#222" stroke-width="3.6" stroke-linecap="butt" stroke-linejoin="round"/>
<path d="M344.1,401.4 L334.8,433.0" fill="none" stroke="#999" stroke-width="1.2000000000000002" stroke-linecap="butt" stroke-linejoin="round"/>
<text x="365.1" y="453.9" font-size="9" text-anchor="middle">84a</text>
<line x1="356.3" y1="443.1" x2="339.8" y2="427.9" stroke="#333" stroke-width="0.7"/>
<path d="M302.0,396.0 C302.6,400.0 304.8,410.5 305.7,420.0 C306.6,429.5 306.3,444.2 307.5,453.0 C308.7,461.8 309.2,468.3 313.0,473.0 C316.8,477.7 324.5,478.8 330.0,481.0 C335.5,483.2 341.7,483.8 346.0,486.5 C350.3,489.2 351.7,492.0 356.0,497.0 C360.3,502.0 367.7,511.5 372.0,516.4 C376.3,521.3 376.4,522.6 382.0,526.5 C387.6,530.4 394.5,533.7 405.8,540.0 C417.1,546.3 436.9,558.2 450.0,564.4 C463.1,570.6 475.8,572.9 484.3,577.0 C492.8,581.1 495.8,585.1 501.0,589.0 C506.2,592.9 513.2,598.7 515.7,600.6" fill="none" stroke="#222" stroke-width="8.8" stroke-linecap="butt" stroke-linejoin="round"/>
<path d="M302.0,396.0 C302.6,400.0 304.8,410.5 305.7,420.0 C306.6,429.5 306.3,444.2 307.5,453.0 C308.7,461.8 309.2,468.3 313.0,473.0 C316.8,477.7 324.5,478.8 330.0,481.0 C335.5,483.2 341.7,483.8 346.0,486.5 C350.3,489.2 351.7,492.0 356.0,497.0 C360.3,502.0 367.7,511.5 372.0,516.4 C376.3,521.3 376.4,522.6 382.0,526.5 C387.6,530.4 394.5,533.7 405.8,540.0 C417.1,546.3 436.9,558.2 450.0,564.4 C463.1,570.6 475.8,572.9 484.3,577.0 C492.8,581.1 495.8,585.1 501.0,589.0 C506.2,592.9 513.2,598.7 515.7,600.6" fill="none" stroke="#fff" stroke-width="7.000000000000001" stroke-linecap="butt" stroke-linejoin="round"/>
<ellipse cx="302.0" cy="396.0" rx="1.9" ry="4.2" transform="rotate(-98.8 302.0 396.0)" fill="#fff" stroke="#222" stroke-width="0.9"/>
<ellipse cx="515.7" cy="600.6" rx="1.9" ry="4.2" transform="rotate(38.3 515.7 600.6)" fill="#fff" stroke="#222" stroke-width="0.9"/>
<path d="M302.2,424.3 Q306.1,425.2 309.8,423.8" fill="none" stroke="#888" stroke-width="0.6"/>
<path d="M304.3,457.7 Q308.2,458.4 311.8,456.7" fill="none" stroke="#888" stroke-width="0.6"/>
<path d="M313.6,478.6 Q316.7,476.1 317.8,472.3" fill="none" stroke="#888" stroke-width="0.6"/>
<path d="M343.3,489.4 Q346.2,486.6 346.9,482.6" fill="none" stroke="#888" stroke-width="0.6"/>
<path d="M349.8,495.4 Q353.5,494.0 355.7,490.7" fill="none" stroke="#888" stroke-width="0.6"/>
<path d="M366.7,516.0 Q370.4,514.5 372.5,511.2" fill="none" stroke="#888" stroke-width="0.6"/>
<path d="M395.8,538.9 Q398.7,536.1 399.4,532.2" fill="none" stroke="#888" stroke-width="0.6"/>
<path d="M435.0,560.9 Q437.9,558.2 438.6,554.3" fill="none" stroke="#888" stroke-width="0.6"/>
<path d="M465.3,574.3 Q467.6,571.1 467.7,567.1" fill="none" stroke="#888" stroke-width="0.6"/>
<path d="M475.5,577.6 Q477.8,574.4 477.9,570.4" fill="none" stroke="#888" stroke-width="0.6"/>
<path d="M503.7,595.9 Q507.0,593.6 508.4,589.9" fill="none" stroke="#888" stroke-width="0.6"/>
<path d="M337.7,486.4 L339.0,486.8 L340.3,487.1 L341.4,487.6 L342.6,488.0 L343.6,488.5 L344.5,489.0 L345.4,489.5 L346.1,490.1 L346.8,490.7 L347.5,491.4 L348.1,492.0 L348.8,492.8 L349.5,493.6 L350.2,494.5 L351.0,495.4 L351.8,496.5 L352.8,497.7 L353.8,498.9 L354.9,500.2 L356.2,501.7 L357.5,503.3 L358.9,505.0 L360.3,506.7 L361.7,508.5 L363.2,510.4 L364.6,512.1 L366.0,513.8 L367.4,515.5 L368.7,517.0 L369.8,518.3 L370.8,519.4 L371.6,520.4 L372.3,521.3 L373.0,522.2 L373.7,523.0 L374.3,523.7 L375.1,524.5 L375.9,525.3 L376.8,526.1 L377.8,527.0 L379.0,527.9 L380.3,528.9 L381.8,529.9 L383.4,530.9 L385.0,531.9 L386.7,532.9 L388.5,533.9 L390.4,534.9 L392.4,536.0 L394.5,537.1 L396.7,538.3 L399.1,539.6 L401.7,541.0 L404.4,542.5 L407.4,544.2 L410.7,546.1 L414.2,548.1 L417.9,550.3 L421.8,552.5 L425.8,554.8 L429.8,557.0 L433.8,559.3 L437.8,561.4 L441.6,563.5 L445.3,565.3 L448.8,567.0 L452.1,568.5 L455.4,569.9 L458.7,571.1 L461.9,572.2 L465.0,573.3 L468.0,574.2 L470.9,575.2 L473.6,576.0 L476.2,576.9 L478.7,577.8 L481.0,578.7 L483.1,579.6 L484.9,580.6 L486.7,581.5 L488.2,582.5 L489.6,583.4 L490.9,584.4 L492.1,585.3 L493.2,586.3 L494.3,587.2 L495.5,588.2 L496.7,589.3 L497.9,590.3 L499.2,591.3 L500.6,592.3 L502.0,593.4 L503.4,594.5 L504.8,595.6 L506.2,596.7 L507.6,597.8 L508.9,598.9" fill="none" stroke="#666" stroke-width="0.5"/>
<text x="329.6" y="527.9" font-size="9" text-anchor="middle">55</text>
<line x1="339.8" y1="519.0" x2="358.8" y2="507.5" stroke="#333" stroke-width="0.7"/>
<g transform="translate(524,608) rotate(30)"><ellipse rx="5.4" ry="5.2" fill="#151515"/><rect x="-6.60" y="-0.52" width="4.86" height="3.90" rx="0.8" fill="#151515"/><rect x="-6.00" y="1.30" width="2.43" height="1.56" fill="#ddd"/><ellipse cx="1.62" rx="2.16" ry="3.43" fill="#fff" stroke="#333" stroke-width="0.5"/><line x1="0.65" y1="1.82" x2="2.70" y2="-1.82" stroke="#444" stroke-width="0.8"/></g>
<text x="562.4" y="589.8" font-size="9" text-anchor="middle">79</text>
<line x1="529.2" y1="607.6" x2="553.1" y2="593.0" stroke="#333" stroke-width="0.7"/>
<path d="M268,467.5 C270,464 277,463 284,463.5 C287,466 288,474 286.3,477.5 C284,481.5 278,483 273.5,482 C269.5,480 267.5,474 266.5,470 Z" fill="none" stroke="#1a1a1a" stroke-width="2.3"/>
<path d="M268,467.5 C270,464 277,463 284,463.5 C287,466 288,474 286.3,477.5 C284,481.5 278,483 273.5,482 C269.5,480 267.5,474 266.5,470 Z" fill="none" stroke="#fff" stroke-width="0.7"/>
<circle cx="264.5" cy="469.5" r="2.2" fill="#fff" stroke="#1a1a1a" stroke-width="1.4"/>
<path d="M355,471.5 C358,468.5 366,467.3 373,468 C376.5,469.5 377.5,473 376.5,476 C374.5,480 370,481.8 365,481.5 C360,481 356,479 354.5,476 C353.8,474.5 354,473 355,471.5 Z" fill="none" stroke="#1a1a1a" stroke-width="2.3"/>
<path d="M355,471.5 C358,468.5 366,467.3 373,468 C376.5,469.5 377.5,473 376.5,476 C374.5,480 370,481.8 365,481.5 C360,481 356,479 354.5,476 C353.8,474.5 354,473 355,471.5 Z" fill="none" stroke="#fff" stroke-width="0.7"/>
<circle cx="352.5" cy="475" r="2" fill="#1a1a1a"/>
<text x="237.3" y="443.9" font-size="9" text-anchor="middle">82</text>
<line x1="248.8" y1="446.9" x2="271.6" y2="463.3" stroke="#333" stroke-width="0.7"/>
<text x="408.6" y="503.5" font-size="9" text-anchor="middle">82</text>
<line x1="377.8" y1="479.7" x2="398.0" y2="494.9" stroke="#333" stroke-width="0.7"/>
<path d="M55.5,442.5 C57.7,447.7 64.0,463.4 68.9,473.8 C73.8,484.2 79.2,496.2 84.8,504.6 C90.4,513.1 95.7,519.4 102.7,524.5 C109.7,529.6 117.0,532.7 126.6,535.5 C136.2,538.3 143.8,539.2 160.0,541.5 C176.2,543.8 208.2,548.1 224.0,549.5 C239.8,550.9 244.3,550.8 255.0,550.0 C265.7,549.2 276.7,545.2 288.0,545.0 C299.3,544.8 312.7,546.2 323.0,548.5 C333.3,550.8 344.0,556.4 350.0,559.0 C356.0,561.6 357.5,563.2 359.0,564.0" fill="none" stroke="#222" stroke-width="12.2" stroke-linecap="butt" stroke-linejoin="round"/>
<path d="M55.5,442.5 C57.7,447.7 64.0,463.4 68.9,473.8 C73.8,484.2 79.2,496.2 84.8,504.6 C90.4,513.1 95.7,519.4 102.7,524.5 C109.7,529.6 117.0,532.7 126.6,535.5 C136.2,538.3 143.8,539.2 160.0,541.5 C176.2,543.8 208.2,548.1 224.0,549.5 C239.8,550.9 244.3,550.8 255.0,550.0 C265.7,549.2 276.7,545.2 288.0,545.0 C299.3,544.8 312.7,546.2 323.0,548.5 C333.3,550.8 344.0,556.4 350.0,559.0 C356.0,561.6 357.5,563.2 359.0,564.0" fill="none" stroke="#fff" stroke-width="10.399999999999999" stroke-linecap="butt" stroke-linejoin="round"/>
<path d="M51.9,444.0 L52.5,445.5 L53.3,447.4 L54.2,449.6 L55.3,452.1 L56.4,454.8 L57.6,457.7 L58.9,460.7 L60.2,463.8 L61.5,466.8 L62.8,469.8 L64.1,472.7 L65.4,475.4 L66.6,478.1 L67.9,480.7 L69.1,483.5 L70.4,486.2 L71.7,488.9 L73.1,491.7 L74.4,494.3 L75.8,497.0 L77.2,499.6 L78.6,502.1 L80.1,504.5 L81.5,506.7 L83.0,508.9 L84.4,510.9 L85.9,512.9 L87.3,514.8 L88.8,516.6 L90.3,518.4 L91.9,520.1 L93.5,521.7 L95.1,523.3 L96.8,524.8 L98.6,526.2 L100.4,527.6 L102.3,529.0 L104.2,530.2 L106.1,531.4 L108.0,532.5 L110.0,533.5 L112.1,534.4 L114.2,535.3 L116.3,536.2 L118.5,537.0 L120.8,537.8 L123.1,538.5 L125.5,539.2 L127.9,539.9 L130.3,540.6 L132.7,541.1 L135.1,541.6 L137.6,542.1 L140.2,542.5 L142.8,543.0 L145.7,543.4 L148.7,543.8 L152.0,544.3 L155.6,544.8 L159.5,545.4 L163.8,546.0 L168.7,546.7 L174.1,547.4 L179.8,548.2 L185.7,548.9 L191.7,549.7 L197.6,550.5 L203.5,551.2 L209.2,551.9 L214.5,552.5 L219.3,553.0 L223.6,553.4 L227.4,553.7 L230.8,554.0 L233.8,554.2 L236.5,554.3 L239.0,554.4 L241.4,554.5 L243.7,554.5 L245.9,554.4 L248.1,554.3 L250.3,554.2 L252.7,554.1 L255.3,553.9 L258.1,553.6 L260.9,553.2 L263.7,552.8 L266.5,552.3 L269.3,551.7 L272.0,551.1 L274.7,550.6 L277.5,550.1 L280.1,549.6 L282.8,549.3 L285.5,549.0 L288.1,548.9 L290.9,548.9 L293.7,548.9 L296.6,549.0 L299.6,549.2 L302.5,549.4 L305.5,549.7 L308.4,550.0 L311.3,550.4 L314.2,550.8 L316.9,551.3 L319.6,551.8 L322.1,552.3 L324.6,552.9 L327.0,553.6 L329.4,554.4 L331.9,555.3 L334.3,556.3 L336.6,557.2 L338.9,558.2 L341.0,559.2 L343.1,560.1 L345.0,561.0 L346.8,561.9 L348.4,562.6 L349.8,563.2" fill="none" stroke="#555" stroke-width="0.55"/>
<path d="M289.2,550.5 Q290.6,545.0 289.1,539.5" fill="none" stroke="#888" stroke-width="0.6"/>
<path d="M339.5,560.3 Q343.1,555.9 344.0,550.2" fill="none" stroke="#888" stroke-width="0.6"/>
<line x1="50" y1="445.7" x2="60.9" y2="439.3" stroke="#222" stroke-width="1"/>
<ellipse cx="359" cy="564" rx="3.8" ry="5.9" transform="rotate(-30 359 564)" fill="#fff" stroke="#222" stroke-width="1"/><ellipse cx="359.5" cy="563.8" rx="2.2" ry="3.8" transform="rotate(-30 359 564)" fill="#fff" stroke="#444" stroke-width="0.7"/>
<text x="189.4" y="514.8" font-size="9" text-anchor="middle">26</text>
<line x1="178.6" y1="518.6" x2="150.0" y2="533.8" stroke="#333" stroke-width="0.7"/>
<g transform="translate(47,428.5) rotate(-26)"><rect x="-3" y="-3" width="11" height="6" fill="#fff" stroke="#151515" stroke-width="1"/><path d="M-3,-3.2 L-5.5,-3 C-9,-2.5 -9.5,2.5 -5.5,3.2 L-3,3.2 Z" fill="#151515" stroke="#151515" stroke-width="1"/><rect x="-4" y="-3.2" width="3" height="6.4" fill="#151515"/><line x1="8" y1="-3" x2="8" y2="3" stroke="#151515" stroke-width="1.6"/></g>
<text x="91.7" y="405.1" font-size="9" text-anchor="middle">67b</text>
<line x1="79.2" y1="408.6" x2="55.6" y2="423.8" stroke="#333" stroke-width="0.7"/>
<g transform="translate(374,573) rotate(25)"><ellipse rx="7.8" ry="7.8" fill="#151515"/><rect x="-9.00" y="-0.78" width="7.02" height="5.85" rx="0.8" fill="#151515"/><rect x="-8.40" y="1.95" width="3.51" height="2.34" fill="#ddd"/><ellipse cx="2.34" rx="3.12" ry="5.15" fill="#fff" stroke="#333" stroke-width="0.5"/><line x1="0.94" y1="2.73" x2="3.90" y2="-2.73" stroke="#444" stroke-width="0.8"/></g>
<text x="366.6" y="612.2" font-size="9" text-anchor="middle">67b</text>
<line x1="368.9" y1="580.0" x2="367.5" y2="602.5" stroke="#333" stroke-width="0.7"/>
<circle cx="75.5" cy="544" r="5.75" fill="#222"/><circle cx="75.5" cy="544" r="4.85" fill="#fff"/>
<path d="M75.5,544.0 C79.8,546.3 90.8,554.1 101.0,558.0 C111.2,561.9 123.8,565.2 137.0,567.6 C150.2,570.0 166.1,571.0 180.0,572.5 C193.9,574.0 213.8,575.8 220.6,576.5" fill="none" stroke="#222" stroke-width="11.5" stroke-linecap="butt" stroke-linejoin="round"/>
<path d="M75.5,544.0 C79.8,546.3 90.8,554.1 101.0,558.0 C111.2,561.9 123.8,565.2 137.0,567.6 C150.2,570.0 166.1,571.0 180.0,572.5 C193.9,574.0 213.8,575.8 220.6,576.5" fill="none" stroke="#fff" stroke-width="9.7" stroke-linecap="butt" stroke-linejoin="round"/>
<path d="M73.5,547.6 L74.6,548.2 L76.0,549.1 L77.7,550.1 L79.6,551.3 L81.7,552.6 L83.9,553.9 L86.3,555.3 L88.8,556.7 L91.4,558.1 L94.1,559.5 L96.8,560.7 L99.5,561.8 L102.2,562.8 L105.0,563.8 L107.9,564.7 L110.8,565.6 L113.8,566.5 L116.9,567.3 L120.0,568.1 L123.2,568.9 L126.4,569.6 L129.6,570.3 L132.9,571.0 L136.3,571.6 L139.7,572.2 L143.2,572.8 L146.8,573.2 L150.4,573.7 L154.1,574.1 L157.8,574.5 L161.5,574.8 L165.2,575.2 L168.9,575.5 L172.5,575.9 L176.1,576.2 L179.6,576.6 L183.2,577.0 L187.0,577.3 L190.9,577.7 L194.8,578.1 L198.7,578.5 L202.6,578.9 L206.3,579.2 L209.8,579.6 L213.0,579.9 L215.8,580.2 L218.3,580.4 L220.2,580.6" fill="none" stroke="#222" stroke-width="0.7"/>
<path d="M74.2,546.3 L75.3,547.0 L76.7,547.9 L78.4,548.9 L80.3,550.1 L82.4,551.4 L84.6,552.7 L87.0,554.1 L89.5,555.5 L92.0,556.9 L94.7,558.2 L97.3,559.4 L100.0,560.5 L102.7,561.5 L105.4,562.5 L108.3,563.4 L111.2,564.3 L114.2,565.1 L117.2,566.0 L120.3,566.8 L123.5,567.5 L126.7,568.3 L129.9,569.0 L133.2,569.6 L136.5,570.3" fill="none" stroke="#333" stroke-width="0.65"/>
<ellipse cx="220.6" cy="576.5" rx="3.6" ry="6.4" transform="rotate(8 220.6 576.5)" fill="#fff" stroke="#222" stroke-width="1"/>
<text x="92.7" y="598.4" font-size="9" text-anchor="middle">83</text>
<line x1="102.8" y1="589.4" x2="131.4" y2="574.9" stroke="#333" stroke-width="0.7"/>
<text x="25.3" y="647.3" font-size="9" textLength="95.8" lengthAdjust="spacingAndGlyphs">14S1221-22-23-24-25-26</text>
</svg></body></html>
